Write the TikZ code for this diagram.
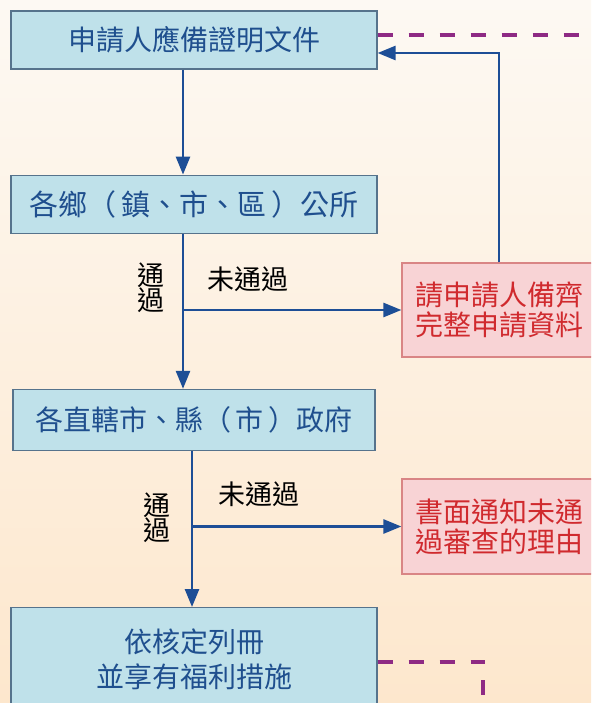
\documentclass[tikz,border=0pt]{standalone}
\usepackage{fontspec}
\newfontfamily\cjk{Noto Sans CJK TC}
\usetikzlibrary{positioning, arrows.meta}
\definecolor{bgtop}{HTML}{FDF9F3}
\definecolor{bgbot}{HTML}{FDE7CD}
\definecolor{boxfill}{HTML}{BFE1EA}
\definecolor{boxline}{HTML}{56738C}
\definecolor{boxtext}{HTML}{1F4F8E}
\definecolor{notefill}{HTML}{F8D3D5}
\definecolor{noteline}{HTML}{D98585}
\definecolor{notetext}{HTML}{D02A2E}
\definecolor{flowblue}{HTML}{1D4E96}
\definecolor{linkpurple}{HTML}{8E2A84}
\tikzset{
every node/.style = {font = \cjk\fontsize{28}{34}\selectfont},
stepbox/.style = {rectangle, draw = boxline, line width = 1.2pt, fill = boxfill,
   text = boxtext, minimum width = 366pt, minimum height = 58pt, inner sep = 0pt,
   align = center},
notebox/.style = {rectangle, draw = noteline, line width = 1.2pt, fill = notefill,
   text = notetext, minimum width = 194pt, minimum height = 94pt, inner sep = 0pt,
   align = center, font = \cjk\fontsize{28}{30}\selectfont},
flow/.style = {-{Triangle[length = 18pt, width = 14pt]}, line width = 2.6pt,
   color = flowblue},
link/.style = {line width = 4pt, draw = linkpurple, dash pattern = on 15pt off 16pt},
tag/.style = {text = black, inner sep = 0pt, align = center,
   font = \cjk\fontsize{27}{25}\selectfont}
}
\newcommand{\pgap}{\hspace{5pt}}

\begin{document}
\begin{tikzpicture}[x = 1pt, y = -1pt]
\useasboundingbox (0,0) rectangle (591,703);
\clip (0,0) rectangle (591,703);
\fill [top color = bgtop, bottom color = bgbot] (0,0) rectangle (591,703);

%% Steps
\node [stepbox] (doc) at (194,40) {申請人應備證明文件};
\node [stepbox, font = \cjk\fontsize{29}{34}\selectfont] (office) [below = 105pt of doc]
   {各鄉（\pgap 鎮、市、區\pgap ）公所};
\node [stepbox, minimum width = 362pt, minimum height = 61pt] (county)
   [below = 155pt of office] {各直轄市、縣（\pgap 市\pgap ）政府};
\node [stepbox, minimum height = 104pt, font = \cjk\fontsize{28}{35}\selectfont] (list)
   [below = 156pt of county] {依核定列冊\\並享有福利措施};

%% Results when not passed
\node [notebox] (fix) at (499,310) {請申請人備齊\\完整申請資料};
\node [notebox, minimum height = 95pt] (notice) at (499,526.5) {書面通知未通\\過審查的理由};

%% Main flow
\coordinate (drop0) at ([xshift = -11pt]doc.south);
\coordinate (drop1) at ([xshift = -11pt]office.south);
\coordinate (drop2) at ([xshift = -2pt]county.south);
\path [flow] (drop0) edge (drop0 |- office.north);
\path [flow] (drop1) edge (drop1 |- county.north);
\path [flow] (drop2) edge (drop2 |- list.north);

%% Branches
\path [flow] (drop1 |- fix.west) edge (fix.west);
\path [flow] (drop2 |- notice.west) edge (notice.west);
\draw [flow] (fix.north) |- ([yshift = -13pt]doc.east);

%% Labels
\node [tag] (pass1) at (151,288) {通\\過};
\node [tag] (fail1) at (248,279) {未通過};
\node [tag] (pass2) at (157,518) {通\\過};
\node [tag] (fail2) at (259,494) {未通過};

%% Links
\coordinate (topexit) at (591,35);
\coordinate (botexit) at (483,703);
\draw [link] ([yshift = 5pt]doc.east) -- (topexit);
\draw [link] ([yshift = -2pt]list.east) -| (botexit);

\end{tikzpicture}
\end{document}
